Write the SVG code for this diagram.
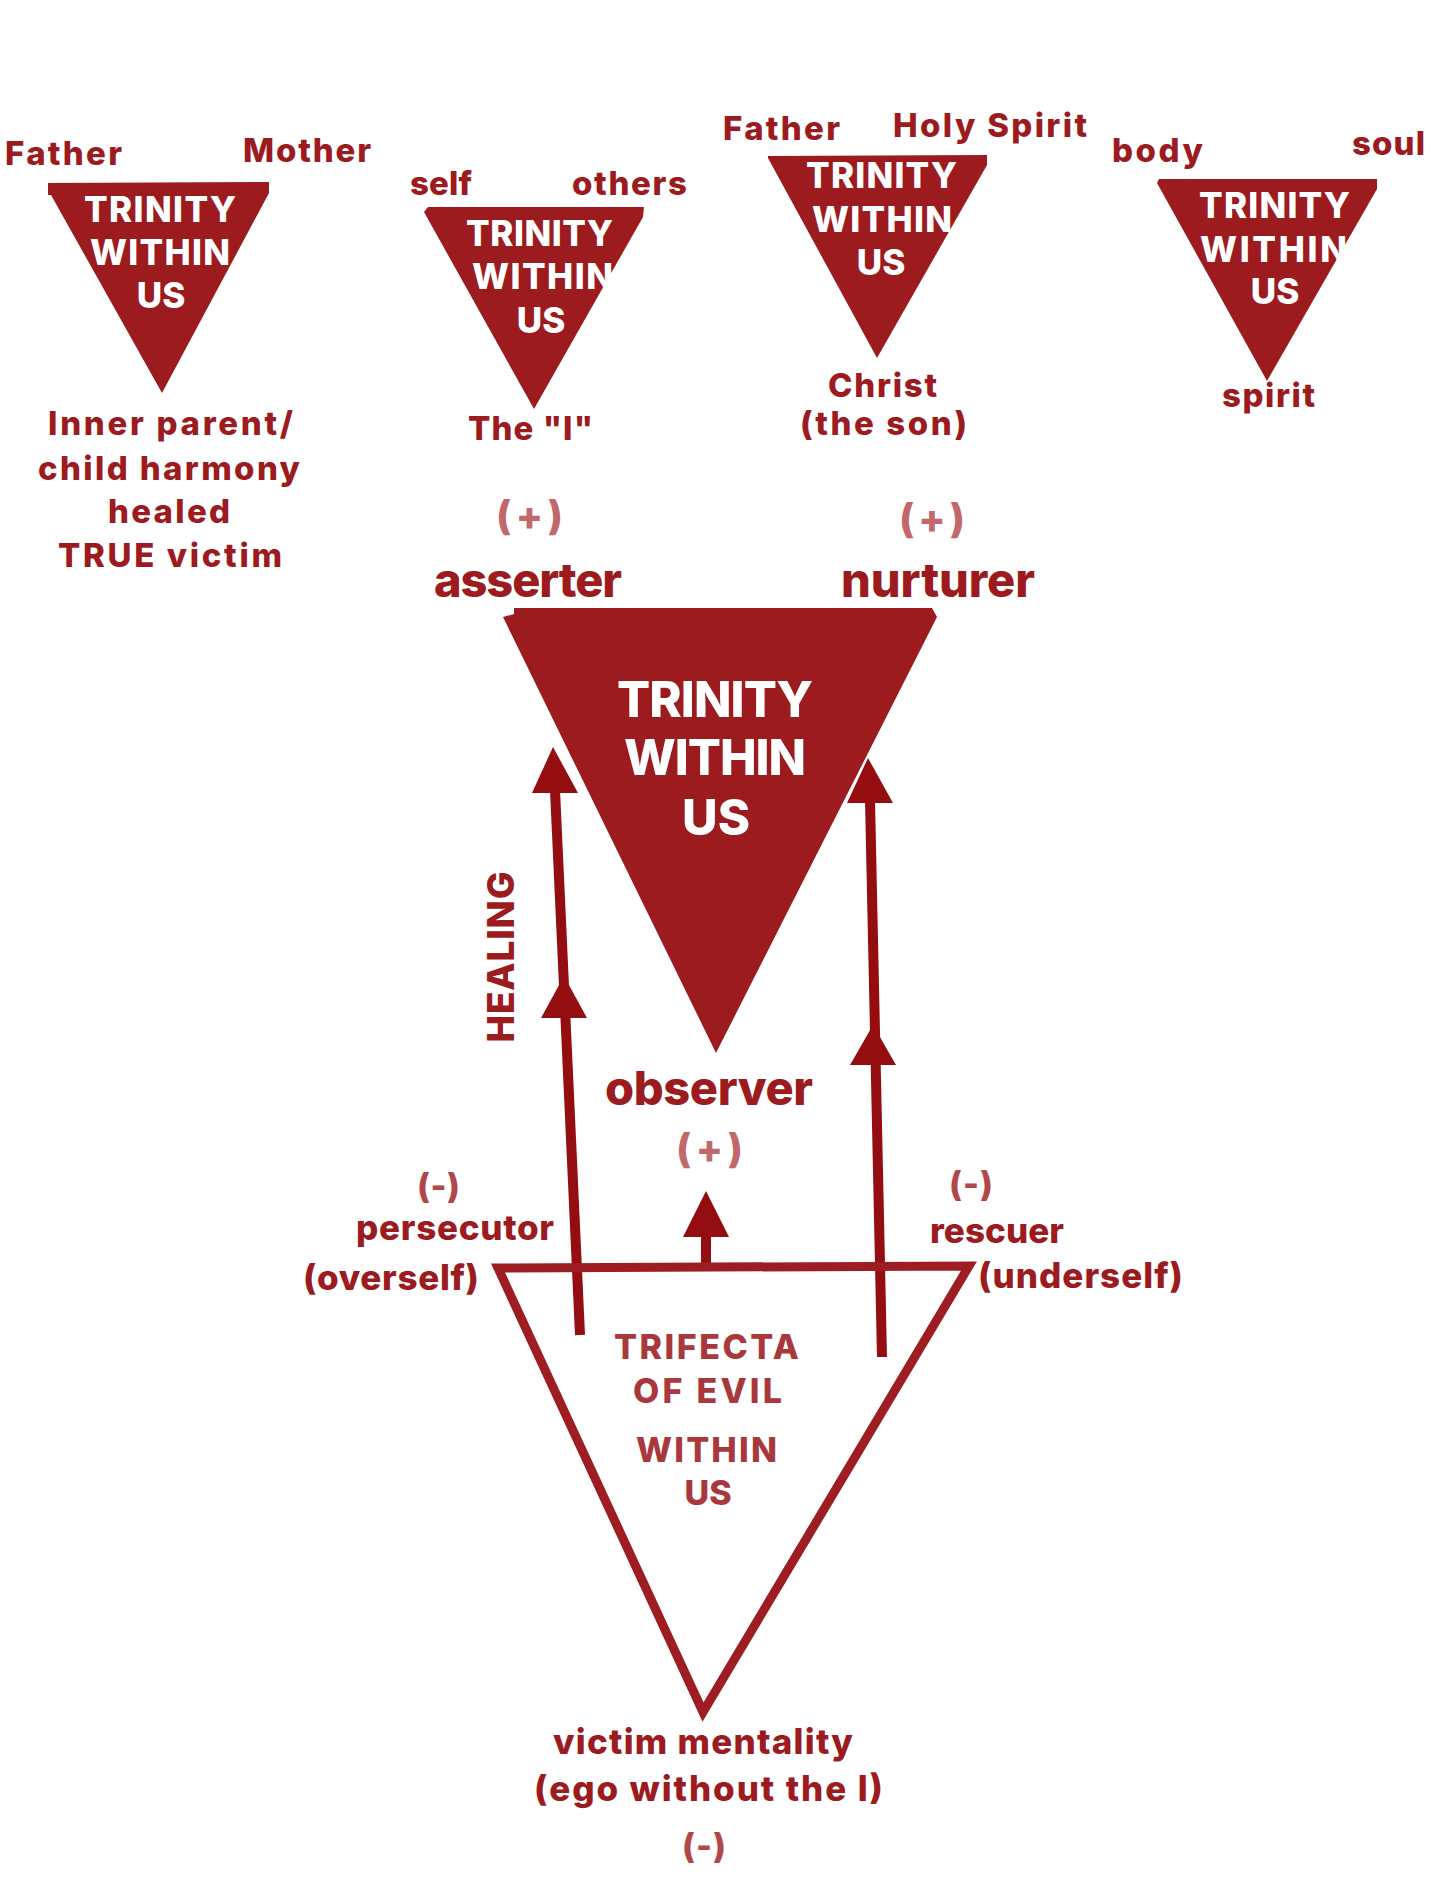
<svg xmlns="http://www.w3.org/2000/svg" width="1456" height="1884" viewBox="0 0 1456 1884">
<style>
text{font-family:Inter,"Liberation Sans",sans-serif;font-weight:800}
.w{fill:#ffffff;font-size:35px}
.wm{fill:#ffffff;font-size:49px}
.lb{fill:#9b1b1f;font-size:33px}
.big{fill:#9b1b1f;font-size:47px}
.plus{fill:#c0686b;font-size:40px}
.minus{fill:#b0474b;font-size:34px}
.role{fill:#9b1b1f;font-size:35px}
.tri{fill:#a9383d;font-size:34px}
.heal{fill:#9b1b1f;font-size:37px}
.tfill{fill:#9c1b1f}
.arrow{stroke:#940e11;stroke-width:10;fill:none}
.head{fill:#940e11}
.outline{fill:none;stroke:#9e1d22;stroke-width:9;stroke-linejoin:miter}
</style>
<rect width="1456" height="1884" fill="#ffffff"/>

<g id="connectors">
  <line class="arrow" x1="580" y1="1335" x2="555" y2="790"/>
  <polygon class="head" points="553,747 532,793 578,793"/>
  <polygon class="head" points="564,976 541,1018 587,1018"/>
  <line class="arrow" x1="882" y1="1357" x2="870" y2="800"/>
  <polygon class="head" points="868,758 847,803 893,803"/>
  <polygon class="head" points="873,1025 850,1065 896,1065"/>
  <line class="arrow" x1="706" y1="1266" x2="706" y2="1234"/>
  <polygon class="head" points="706,1191 683,1237 729,1237"/>
</g>

<g id="trinity-main">
  <polygon class="tfill" points="514,608 932,608 937,617 716,1053 503,617 514,614"/>
  <text class="wm" x="617" y="717" textLength="196" lengthAdjust="spacing">TRINITY</text>
  <text class="wm" x="624" y="775" textLength="182" lengthAdjust="spacing">WITHIN</text>
  <text class="wm" x="716" y="835" text-anchor="middle">US</text>
</g>

<g id="trinity-1">
  <polygon class="tfill" points="48,183 269,182 269,193 162,393 51,195 48,195"/>
  <text class="w" x="84" y="222" textLength="152" lengthAdjust="spacing">TRINITY</text>
  <text class="w" x="90" y="265" textLength="140" lengthAdjust="spacing">WITHIN</text>
  <text class="w" x="161" y="308" text-anchor="middle">US</text>
  <text class="lb" x="5" y="165" textLength="117" lengthAdjust="spacing">Father</text>
  <text class="lb" x="243" y="162" textLength="128" lengthAdjust="spacing">Mother</text>
  <text class="lb" x="48" y="435" textLength="245" lengthAdjust="spacing">Inner parent/</text>
  <text class="lb" x="38" y="480" textLength="262" lengthAdjust="spacing">child harmony</text>
  <text class="lb" x="108" y="523" textLength="122" lengthAdjust="spacing">healed</text>
  <text class="lb" x="58" y="567" textLength="224" lengthAdjust="spacing">TRUE victim</text>
</g>

<g id="trinity-2">
  <polygon class="tfill" points="428,207 644,207 643,217 534,409 424,212"/>
  <text class="w" x="466" y="246" textLength="147" lengthAdjust="spacing">TRINITY</text>
  <text class="w" x="472" y="289" textLength="141" lengthAdjust="spacing">WITHIN</text>
  <text class="w" x="541" y="333" text-anchor="middle">US</text>
  <text class="lb" x="410" y="195" textLength="62" lengthAdjust="spacing">self</text>
  <text class="lb" x="572" y="195" textLength="115" lengthAdjust="spacing">others</text>
  <text class="lb" x="468" y="440" textLength="125" lengthAdjust="spacing">The "I"</text>
</g>

<g id="trinity-3">
  <polygon class="tfill" points="768,156 987,155 987,165 877,358 768,158"/>
  <text class="w" x="806" y="188" textLength="151" lengthAdjust="spacing">TRINITY</text>
  <text class="w" x="812" y="232" textLength="140" lengthAdjust="spacing">WITHIN</text>
  <text class="w" x="881" y="275" text-anchor="middle">US</text>
  <text class="lb" x="723" y="140" textLength="117" lengthAdjust="spacing">Father</text>
  <text class="lb" x="893" y="137" textLength="194" lengthAdjust="spacing">Holy Spirit</text>
  <text class="lb" x="828" y="397" textLength="109" lengthAdjust="spacing">Christ</text>
  <text class="lb" x="800" y="435" textLength="167" lengthAdjust="spacing">(the son)</text>
</g>

<g id="trinity-4">
  <polygon class="tfill" points="1159,179 1377,179 1377,189 1267,381 1157,183"/>
  <text class="w" x="1199" y="218" textLength="151" lengthAdjust="spacing">TRINITY</text>
  <text class="w" x="1200" y="262" textLength="147" lengthAdjust="spacing">WITHIN</text>
  <text class="w" x="1275" y="304" text-anchor="middle">US</text>
  <text class="lb" x="1112" y="162" textLength="91" lengthAdjust="spacing">body</text>
  <text class="lb" x="1352" y="155" textLength="73" lengthAdjust="spacing">soul</text>
  <text class="lb" x="1222" y="407" textLength="93" lengthAdjust="spacing">spirit</text>
</g>

<g id="asserter">
  <text class="plus" x="496" y="530" textLength="67" lengthAdjust="spacing">(+)</text>
  <text class="big" x="434" y="597" textLength="188" lengthAdjust="spacing">asserter</text>
</g>

<g id="nurturer">
  <text class="plus" x="899" y="533" textLength="66" lengthAdjust="spacing">(+)</text>
  <text class="big" x="841" y="597" textLength="194" lengthAdjust="spacing">nurturer</text>
</g>

<g id="observer">
  <text class="big" x="605" y="1105" textLength="208" lengthAdjust="spacing">observer</text>
  <text class="plus" x="676" y="1163" textLength="67" lengthAdjust="spacing">(+)</text>
</g>

<g id="healing">
  <text class="heal" transform="translate(514,957) rotate(-90)" x="0" y="0" text-anchor="middle" textLength="171" lengthAdjust="spacing">HEALING</text>
</g>

<g id="persecutor">
  <text class="minus" x="417" y="1198" textLength="43" lengthAdjust="spacing">(-)</text>
  <text class="role" x="356" y="1240" textLength="198" lengthAdjust="spacing">persecutor</text>
  <text class="role" x="303" y="1290" textLength="176" lengthAdjust="spacing">(overself)</text>
</g>

<g id="rescuer">
  <text class="minus" x="949" y="1196" textLength="44" lengthAdjust="spacing">(-)</text>
  <text class="role" x="930" y="1243" textLength="134" lengthAdjust="spacing">rescuer</text>
  <text class="role" x="978" y="1288" textLength="205" lengthAdjust="spacing">(underself)</text>
</g>

<g id="trifecta">
  <polygon class="outline" points="498,1268 969,1266 703,1712"/>
  <text class="tri" x="614" y="1359" textLength="185" lengthAdjust="spacing">TRIFECTA</text>
  <text class="tri" x="633" y="1403" textLength="149" lengthAdjust="spacing">OF EVIL</text>
  <text class="tri" x="636" y="1462" textLength="141" lengthAdjust="spacing">WITHIN</text>
  <text class="tri" x="708" y="1505" text-anchor="middle">US</text>
</g>

<g id="victim">
  <text class="role" x="553" y="1754" textLength="300" lengthAdjust="spacing">victim mentality</text>
  <text class="role" x="534" y="1801" textLength="349" lengthAdjust="spacing">(ego without the I)</text>
  <text class="minus" x="682" y="1858" textLength="44" lengthAdjust="spacing">(-)</text>
</g>
</svg>
